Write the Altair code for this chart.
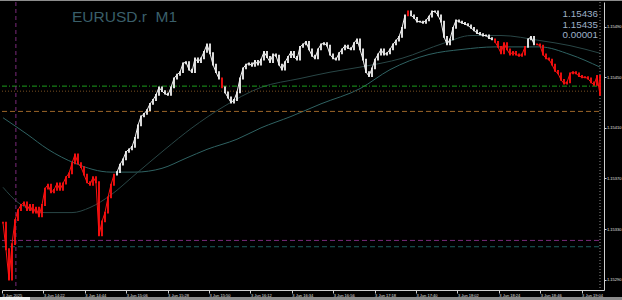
import altair as alt
import pandas as pd

# ---------------- data ----------------
closes = [
    1.15335, 1.15314, 1.15290, 1.15318, 1.15337, 1.15345, 1.15349, 1.15351, 1.15345, 1.15349,
    1.15343, 1.15347, 1.15340, 1.15349, 1.15362, 1.15365, 1.15359, 1.15361, 1.15366, 1.15361,
    1.15366, 1.15371, 1.15374, 1.15382, 1.15389, 1.15382, 1.15379, 1.15373, 1.15367, 1.15365,
    1.15371, 1.15367, 1.15325, 1.15336, 1.15343, 1.15355, 1.15365, 1.15373, 1.15375, 1.15381,
    1.15385, 1.15391, 1.15393, 1.15395, 1.15402, 1.15412, 1.15419, 1.15421, 1.15424, 1.15429,
    1.15432, 1.15436, 1.15442, 1.15439, 1.15437, 1.15436, 1.15442, 1.15449, 1.15452, 1.15454,
    1.15461, 1.15462, 1.15456, 1.15454, 1.15465, 1.15462, 1.15465, 1.15470, 1.15476, 1.15469,
    1.15460, 1.15454, 1.15449, 1.15442, 1.15438, 1.15434, 1.15430, 1.15432, 1.15438, 1.15449,
    1.15457, 1.15460, 1.15461, 1.15459, 1.15463, 1.15460, 1.15464, 1.15470, 1.15466, 1.15462,
    1.15468, 1.15467, 1.15460, 1.15456, 1.15462, 1.15466, 1.15470, 1.15466, 1.15464, 1.15474,
    1.15476, 1.15478, 1.15472, 1.15467, 1.15465, 1.15472, 1.15476, 1.15477, 1.15475, 1.15468,
    1.15465, 1.15464, 1.15469, 1.15472, 1.15475, 1.15473, 1.15472, 1.15477, 1.15480, 1.15472,
    1.15464, 1.15454, 1.15451, 1.15457, 1.15464, 1.15468, 1.15472, 1.15468, 1.15469, 1.15472,
    1.15476, 1.15479, 1.15482, 1.15489, 1.15499, 1.15502, 1.15499, 1.15497, 1.15494, 1.15494,
    1.15493, 1.15495, 1.15498, 1.15502, 1.15502, 1.15499, 1.15494, 1.15482, 1.15476, 1.15480,
    1.15489, 1.15495, 1.15494, 1.15493, 1.15492, 1.15491, 1.15489, 1.15487, 1.15485, 1.15484,
    1.15483, 1.15483, 1.15481, 1.15480, 1.15478, 1.15474, 1.15469, 1.15477, 1.15472, 1.15468,
    1.15470, 1.15468, 1.15467, 1.15468, 1.15474, 1.15480, 1.15482, 1.15476, 1.15476, 1.15475,
    1.15468, 1.15465, 1.15464, 1.15460, 1.15455, 1.15453, 1.15448, 1.15445, 1.15446, 1.15453,
    1.15454, 1.15453, 1.15451, 1.15450, 1.15450, 1.15449, 1.15446, 1.15444, 1.15451, 1.15436,
]
# bar ranges drawn in red (down-trend colouring)
red_ranges = [(0, 37), (73, 73), (135, 135), (164, 174), (178, 199)]

# moving averages (bar index, price)
ma_slow_bar = [0, 8, 15, 24, 36, 44, 53, 61, 68, 78, 86, 96, 106, 119, 129, 142, 153, 164, 179, 189, 199]
ma_slow_val = [1.15418, 1.15405, 1.15393, 1.15382, 1.15375, 1.15375, 1.15378, 1.15386, 1.15393, 1.15401,
               1.15410, 1.15419, 1.15429, 1.15441, 1.15456, 1.15468, 1.15472, 1.15474, 1.15474, 1.15468,
               1.15458]
ma_mid_bar = [0, 5, 14, 23, 29, 36, 44, 54, 63, 73, 86, 99, 109, 119, 133, 147, 156, 166, 179, 189, 199]
ma_mid_val = [1.15363, 1.15351, 1.15343, 1.15343, 1.15347, 1.15357, 1.15373, 1.15393, 1.15410, 1.15426,
              1.15442, 1.15449, 1.15454, 1.15458, 1.15465, 1.15477, 1.15483, 1.15483, 1.15479, 1.15475,
              1.15469]

# horizontal price levels
levels = [1.15443, 1.15439, 1.15423, 1.15321, 1.15316]
event_bars = [4.3]
current_bar = 199

y_tick_values = [1.15290, 1.15300, 1.15310, 1.15320, 1.15330, 1.15340, 1.15350, 1.15360, 1.15370,
                 1.15380, 1.15390, 1.15400, 1.15410, 1.15420, 1.15430, 1.15440, 1.15450, 1.15460,
                 1.15470, 1.15480, 1.15490, 1.15500]
time_labels = ["3 Jun 2025", "3 Jun 14:11", "3 Jun 14:22", "3 Jun 14:33", "3 Jun 14:44", "3 Jun 14:55",
               "3 Jun 15:06", "3 Jun 15:17", "3 Jun 15:28", "3 Jun 15:39", "3 Jun 15:50", "3 Jun 16:01",
               "3 Jun 16:12", "3 Jun 16:23", "3 Jun 16:34", "3 Jun 16:45", "3 Jun 16:56", "3 Jun 17:07",
               "3 Jun 17:18", "3 Jun 17:29", "3 Jun 17:40", "3 Jun 17:51", "3 Jun 18:02", "3 Jun 18:13",
               "3 Jun 18:24", "3 Jun 18:35", "3 Jun 18:46", "3 Jun 18:57", "3 Jun 19:04", "3 Jun 19:09"]
title_text = "EURUSD.r\u00a0\u00a0M1"
info_texts = ["1.15436", "1.15435", "0.00001"]

# ---------------- styling ----------------
level_colors = ["#1e9e1e", "#7a5020", "#9a6428", "#7a2a7a", "#1d5f5f"]
level_dashes = [[5, 2, 1, 2], [1, 2], [5, 3], [5, 3], [5, 3]]
X_DOMAIN = [-0.33, 200.33]
Y_DOMAIN = [1.152818, 1.155095]
LABEL_STEP = 6.9
FONT = "Liberation Sans"
TREND_SCALE = alt.Scale(domain=["down", "up"], range=["#ff1010", "#f2f2f2"])

xs = alt.Scale(domain=X_DOMAIN, nice=False, zero=False)
ys = alt.Scale(domain=Y_DOMAIN, nice=False, zero=False)

n = len(closes)
trend = ["down" if any(a <= i <= b for a, b in red_ranges) else "up" for i in range(n)]
seg, s = [], 0
for i in range(n):
    if i > 0 and trend[i] != trend[i - 1]:
        s += 1
    seg.append(s)
bars = pd.DataFrame({"bar": list(range(n)), "close": closes, "trend": trend, "seg": seg})
bars["open"] = [closes[0]] + closes[:-1]

tick_pos = [i * LABEL_STEP + X_DOMAIN[0] for i in range(len(time_labels))]
label_arr = "[" + ",".join("'" + t + "'" for t in time_labels) + "]"
label_expr = f"{label_arr}[round((datum.value - ({X_DOMAIN[0]})) / {LABEL_STEP})]"

x_axis = alt.Axis(values=tick_pos, labelExpr=label_expr, labelAlign="left", labelBaseline="top",
                  labelFontSize=4, labelFont=FONT, labelColor="#e0e0e0", labelPadding=0.5,
                  labelFlush=False, labelOverlap=False, tickSize=3, tickColor="#d0d0d0",
                  domainColor="#d0d0d0", grid=False, title=None)
y_axis = alt.Axis(orient="right", values=y_tick_values, format=".5f", labelFontSize=4,
                  labelFont=FONT, labelColor="#e0e0e0", labelPadding=0.5, tickSize=2,
                  tickColor="#d0d0d0", domainColor="#d0d0d0", grid=False, title=None,
                  labelOverlap=False, labelFlush=False)

base_dummy = pd.DataFrame({"a": [0]})

layers = []

# moving averages
for bvals, pvals, col in [(ma_slow_bar, ma_slow_val, "#2f6262"), (ma_mid_bar, ma_mid_val, "#294646")]:
    df = pd.DataFrame({"bar": bvals, "price": pvals})
    layers.append(alt.Chart(df).mark_line(color=col, strokeWidth=1, interpolate="monotone").encode(
        x=alt.X("bar:Q", scale=xs, axis=x_axis), y=alt.Y("price:Q", scale=ys, axis=y_axis)))

# horizontal levels
for lv, col, dash in zip(levels, level_colors, level_dashes):
    layers.append(alt.Chart(base_dummy).mark_rule(color=col, strokeDash=dash, strokeWidth=1).encode(
        x=alt.datum(X_DOMAIN[0]), x2=alt.datum(current_bar), y=alt.datum(lv)))

# vertical lines
for eb in event_bars:
    layers.append(alt.Chart(base_dummy).mark_rule(color="#7a2a7a", strokeDash=[4, 3], strokeWidth=1)
                  .encode(x=alt.datum(eb)))
layers.append(alt.Chart(base_dummy).mark_rule(color="#8a8a8a", strokeDash=[1, 2], strokeWidth=1)
              .encode(x=alt.datum(current_bar)))

# thin connector through the closes, one line per colour run
layers.append(alt.Chart(bars).mark_line(strokeWidth=1).encode(
    x=alt.X("bar:Q", scale=xs),
    y=alt.Y("close:Q", scale=ys),
    color=alt.Color("trend:N", scale=TREND_SCALE, legend=None),
    detail="seg:N"))

# candles
layers.append(alt.Chart(bars).mark_rule(strokeWidth=1.8, strokeCap="square").encode(
    x=alt.X("bar:Q", scale=xs),
    y=alt.Y("open:Q", scale=ys),
    y2="close:Q",
    color=alt.Color("trend:N", scale=TREND_SCALE, legend=None)))

# title
layers.append(alt.Chart(pd.DataFrame({"t": [title_text]})).mark_text(
    align="left", baseline="alphabetic", font=FONT, fontSize=15.5, color="#3a5f6a").encode(
    x=alt.value(70), y=alt.value(20), text="t:N"))

# top-right info
for i, t in enumerate(info_texts):
    layers.append(alt.Chart(pd.DataFrame({"t": [t]})).mark_text(
        align="right", baseline="middle", font=FONT, fontSize=9.8, color="#9fb0c8").encode(
        x=alt.value(596), y=alt.value(12 + i * 10.5), text="t:N"))

# frame decorations (top border, bottom tab strip)
layers.append(alt.Chart(base_dummy).mark_rect(color="#8c8c8c").encode(
    x=alt.value(-2), x2=alt.value(620), y=alt.value(-2), y2=alt.value(-1)))
layers.append(alt.Chart(base_dummy).mark_rect(color="#8c8c8c").encode(
    x=alt.value(-2), x2=alt.value(620), y=alt.value(295), y2=alt.value(298)))
layers.append(alt.Chart(base_dummy).mark_rect(color="#f0f0f0").encode(
    x=alt.value(-2), x2=alt.value(28), y=alt.value(295), y2=alt.value(298)))

chart = alt.layer(*layers).properties(
    width=602, height=288,
    padding={"left": 2, "top": 2, "right": 18, "bottom": 10},
    autosize=alt.AutoSizeParams(type="none"),
    background="#000000",
).configure_view(stroke=None)

chart.save("out.html", embed_options={"renderer": "svg", "actions": False})
